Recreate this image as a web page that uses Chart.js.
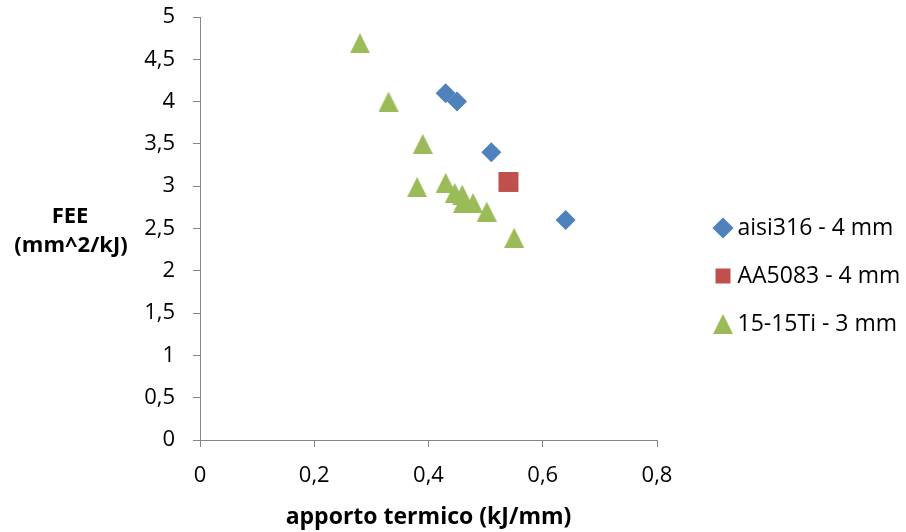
<!DOCTYPE html>
<html>
<head>
<meta charset="utf-8">
<script src="https://cdn.jsdelivr.net/npm/chart.js@4"></script>
<style>
    html, body { margin: 0; padding: 0; background: #ffffff; }
    #wrap { width: 906px; height: 532px; }
</style>
</head>
<body>
<div id="wrap"><canvas id="chart" width="906" height="532"></canvas></div>
<script>
// aisi316 - 4 mm
const aisiX = [0.43, 0.45, 0.51, 0.64];
const aisiY = [4.1, 4.0, 3.4, 2.6];
// AA5083 - 4 mm
const aaX = [0.54];
const aaY = [3.05];
// 15-15Ti - 3 mm
const tiX = [0.28, 0.33, 0.39, 0.38, 0.43, 0.446, 0.459, 0.46, 0.478, 0.502, 0.55];
const tiY = [4.69, 4.0, 3.5, 2.99, 3.04, 2.92, 2.9, 2.8, 2.8, 2.7, 2.39];

const seriesLabels = ['aisi316 - 4 mm', 'AA5083 - 4 mm', '15-15Ti - 3 mm'];
const xTicks = [0, 0.2, 0.4, 0.6, 0.8];
const yTicks = [0, 0.5, 1, 1.5, 2, 2.5, 3, 3.5, 4, 4.5, 5];

const colors = {
    blue: '#4f81bd',
    red: '#c0504d',
    green: '#9bbb59',
    axis: '#868686',
    text: '#000000',
};
const font = '"Open Sans", sans-serif';

function toPoints(xs, ys) {
    return xs.map((x, i) => ({ x, y: ys[i] }));
}

function comma(value) {
    return String(Math.round(value * 10) / 10).replace('.', ',');
}

// excel style triangle, centred on its bounding box
function triangleMarker(size, color) {
    const c = document.createElement('canvas');
    c.width = size;
    c.height = size;
    const g = c.getContext('2d');
    g.fillStyle = color;
    g.beginPath();
    g.moveTo(size / 2, 0);
    g.lineTo(size, size);
    g.lineTo(0, size);
    g.closePath();
    g.fill();
    return c;
}

const legendShift = { x: 38, y: 1.5 };

const layoutTweaks = {
    id: 'layoutTweaks',
    beforeInit(chart) {
        const fit = chart.legend.fit;
        chart.legend.fit = function () {
            fit.call(this);
            this.width = 249;
        };
    },
    afterLayout(chart) {
        const lg = chart.legend;
        lg.left += legendShift.x;
        lg.right += legendShift.x;
        lg.top += legendShift.y;
        lg.bottom += legendShift.y;
    },
    afterDraw(chart) {
        const ctx = chart.ctx;
        ctx.save();
        ctx.fillStyle = colors.text;
        ctx.font = 'bold 22px ' + font;
        ctx.textAlign = 'center';
        ctx.textBaseline = 'middle';
        ctx.fillText('FEE', 70, 217);
        ctx.fillText('(mm^2/kJ)', 71, 246);
        ctx.restore();
    },
};

new Chart(document.getElementById('chart'), {
    type: 'scatter',
    data: {
        datasets: [{
            label: seriesLabels[0],
            data: toPoints(aisiX, aisiY),
            pointStyle: 'rectRot',
            pointRadius: 10,
            pointBorderWidth: 0,
            backgroundColor: colors.blue,
            borderColor: colors.blue,
        }, {
            label: seriesLabels[1],
            data: toPoints(aaX, aaY),
            pointStyle: 'rect',
            pointRadius: 14.14,
            pointBorderWidth: 0,
            backgroundColor: colors.red,
            borderColor: colors.red,
        }, {
            label: seriesLabels[2],
            data: toPoints(tiX, tiY),
            pointStyle: triangleMarker(20, colors.green),
            pointRadius: 10,
            pointBorderWidth: 0,
            backgroundColor: colors.green,
            borderColor: colors.green,
        }],
    },
    options: {
        responsive: false,
        animation: false,
        events: [],
        layout: { padding: { top: 17, left: 0, right: 0, bottom: 0 } },
        plugins: {
            tooltip: { enabled: false },
            legend: {
                position: 'right',
                align: 'center',
                labels: {
                    usePointStyle: true,
                    boxWidth: 6,
                    boxHeight: 15,
                    padding: 25,
                    color: colors.text,
                    font: { family: font, size: 23 },
                },
            },
        },
        scales: {
            x: {
                type: 'linear',
                min: 0,
                max: 0.8,
                afterBuildTicks: (scale) => { scale.ticks = xTicks.map((v) => ({ value: v })); },
                afterFit: (scale) => { scale.height = 92; },
                grid: { display: true, drawOnChartArea: false, drawTicks: true, tickLength: 7, color: colors.axis, lineWidth: 1 },
                border: { display: true, color: colors.axis, width: 1 },
                ticks: {
                    padding: 16,
                    color: colors.text,
                    font: { family: font, size: 22 },
                    maxRotation: 0,
                    callback: (v) => comma(v),
                },
                title: {
                    display: true,
                    text: 'apporto termico (kJ/mm)',
                    color: colors.text,
                    font: { family: font, size: 23, weight: 'bold' },
                    padding: { top: 4, bottom: 1 },
                },
            },
            y: {
                type: 'linear',
                min: 0,
                max: 5,
                afterBuildTicks: (scale) => { scale.ticks = yTicks.map((v) => ({ value: v })); },
                afterFit: (scale) => {
                    scale.width = 200;
                    scale.paddingTop = 0;
                    scale.paddingBottom = 0;
                },
                grid: { display: true, drawOnChartArea: false, drawTicks: true, tickLength: 7, color: colors.axis, lineWidth: 1 },
                border: { display: true, color: colors.axis, width: 1 },
                ticks: {
                    padding: 18,
                    color: colors.text,
                    font: { family: font, size: 22 },
                    callback: (v) => comma(v),
                },
            },
        },
    },
    plugins: [layoutTweaks],
});
</script>
</body>
</html>
